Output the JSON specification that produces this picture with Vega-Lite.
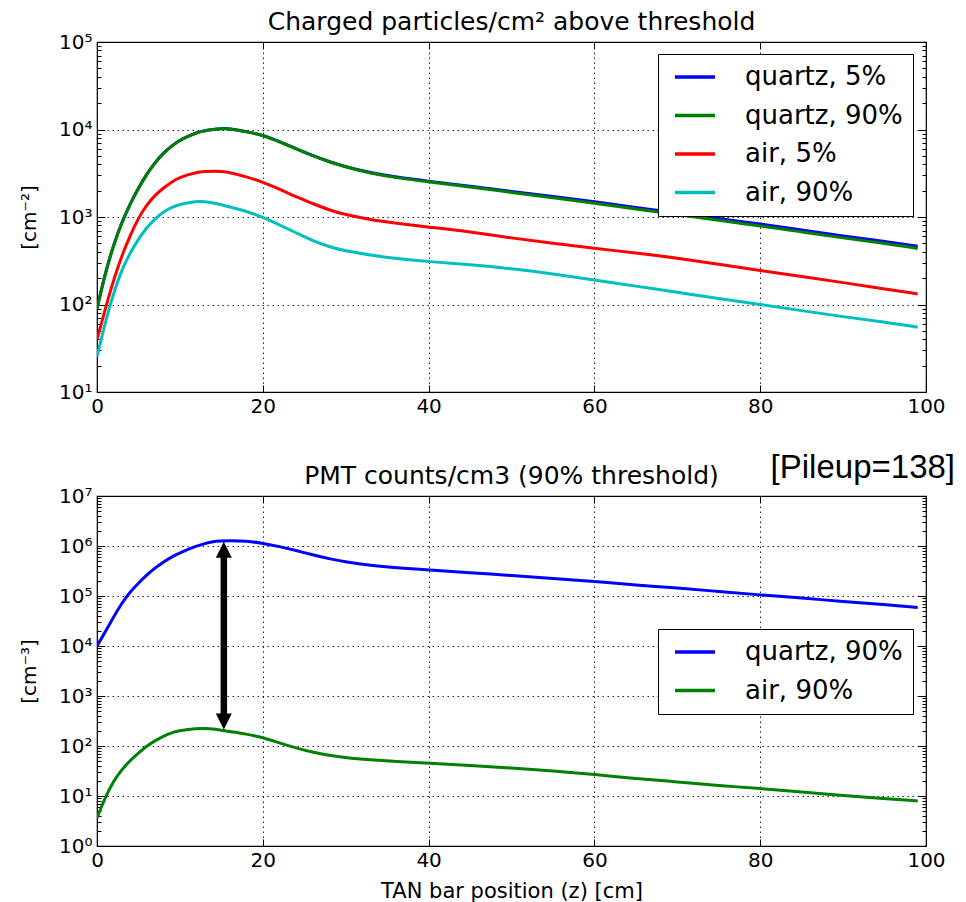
{
  "$schema": "https://vega.github.io/schema/vega-lite/v6.json",
  "autosize": {"type": "none"},
  "padding": {"left": 97, "top": 42, "right": 869, "bottom": 860},
  "background": "white",
  "config": {
    "font": "DejaVu Sans",
    "view": {"stroke": "#000", "strokeWidth": 1.2},
    "axis": {"labelFont": "DejaVu Sans", "titleFont": "DejaVu Sans", "labelColor": "#000", "titleColor": "#000", "tickColor": "#000", "titleFontWeight": "normal"},
    "title": {"font": "DejaVu Sans", "fontWeight": "normal", "fontSize": 25, "color": "#000", "offset": 9},
    "legend": {"labelFont": "DejaVu Sans", "labelColor": "#000"}
  },
  "datasets": {
    "top": [
      {"z":0,"value":90,"series":"quartz, 5%"},{"z":1,"value":230,"series":"quartz, 5%"},{"z":2,"value":481,"series":"quartz, 5%"},{"z":3,"value":875,"series":"quartz, 5%"},{"z":4,"value":1420,"series":"quartz, 5%"},{"z":5,"value":2150,"series":"quartz, 5%"},{"z":6,"value":3100,"series":"quartz, 5%"},{"z":7,"value":4180,"series":"quartz, 5%"},{"z":8,"value":5390,"series":"quartz, 5%"},{"z":9,"value":6480,"series":"quartz, 5%"},{"z":10,"value":7610,"series":"quartz, 5%"},{"z":12,"value":9260,"series":"quartz, 5%"},{"z":13,"value":9700,"series":"quartz, 5%"},{"z":14,"value":10040,"series":"quartz, 5%"},{"z":15,"value":10270,"series":"quartz, 5%"},{"z":16,"value":10270,"series":"quartz, 5%"},{"z":18,"value":9480,"series":"quartz, 5%"},{"z":20,"value":8650,"series":"quartz, 5%"},{"z":22,"value":7280,"series":"quartz, 5%"},{"z":24,"value":6060,"series":"quartz, 5%"},{"z":26,"value":5050,"series":"quartz, 5%"},{"z":28,"value":4300,"series":"quartz, 5%"},{"z":30,"value":3750,"series":"quartz, 5%"},{"z":33,"value":3200,"series":"quartz, 5%"},{"z":36,"value":2860,"series":"quartz, 5%"},{"z":40,"value":2560,"series":"quartz, 5%"},{"z":45,"value":2260,"series":"quartz, 5%"},{"z":50,"value":1960,"series":"quartz, 5%"},{"z":55,"value":1710,"series":"quartz, 5%"},{"z":60,"value":1500,"series":"quartz, 5%"},{"z":65,"value":1280,"series":"quartz, 5%"},{"z":70,"value":1120,"series":"quartz, 5%"},{"z":75,"value":955,"series":"quartz, 5%"},{"z":80,"value":835,"series":"quartz, 5%"},{"z":85,"value":710,"series":"quartz, 5%"},{"z":90,"value":605,"series":"quartz, 5%"},{"z":95,"value":528,"series":"quartz, 5%"},{"z":99,"value":462,"series":"quartz, 5%"},
      {"z":0,"value":89,"series":"quartz, 90%"},{"z":1,"value":229,"series":"quartz, 90%"},{"z":2,"value":479,"series":"quartz, 90%"},{"z":3,"value":871,"series":"quartz, 90%"},{"z":4,"value":1413,"series":"quartz, 90%"},{"z":5,"value":2138,"series":"quartz, 90%"},{"z":6,"value":3090,"series":"quartz, 90%"},{"z":7,"value":4169,"series":"quartz, 90%"},{"z":8,"value":5370,"series":"quartz, 90%"},{"z":9,"value":6457,"series":"quartz, 90%"},{"z":10,"value":7586,"series":"quartz, 90%"},{"z":12,"value":9226,"series":"quartz, 90%"},{"z":13,"value":9660,"series":"quartz, 90%"},{"z":14,"value":10000,"series":"quartz, 90%"},{"z":15,"value":10230,"series":"quartz, 90%"},{"z":16,"value":10230,"series":"quartz, 90%"},{"z":18,"value":9441,"series":"quartz, 90%"},{"z":20,"value":8610,"series":"quartz, 90%"},{"z":22,"value":7244,"series":"quartz, 90%"},{"z":24,"value":6026,"series":"quartz, 90%"},{"z":26,"value":5012,"series":"quartz, 90%"},{"z":28,"value":4266,"series":"quartz, 90%"},{"z":30,"value":3715,"series":"quartz, 90%"},{"z":33,"value":3162,"series":"quartz, 90%"},{"z":36,"value":2818,"series":"quartz, 90%"},{"z":40,"value":2512,"series":"quartz, 90%"},{"z":45,"value":2213,"series":"quartz, 90%"},{"z":50,"value":1905,"series":"quartz, 90%"},{"z":55,"value":1660,"series":"quartz, 90%"},{"z":60,"value":1445,"series":"quartz, 90%"},{"z":65,"value":1230,"series":"quartz, 90%"},{"z":70,"value":1072,"series":"quartz, 90%"},{"z":75,"value":912,"series":"quartz, 90%"},{"z":80,"value":794,"series":"quartz, 90%"},{"z":85,"value":676,"series":"quartz, 90%"},{"z":90,"value":575,"series":"quartz, 90%"},{"z":95,"value":501,"series":"quartz, 90%"},{"z":99,"value":437,"series":"quartz, 90%"},
      {"z":0,"value":39.8,"series":"air, 5%"},{"z":1,"value":89.1,"series":"air, 5%"},{"z":2,"value":191,"series":"air, 5%"},{"z":3,"value":363,"series":"air, 5%"},{"z":4,"value":617,"series":"air, 5%"},{"z":5,"value":977,"series":"air, 5%"},{"z":6,"value":1380,"series":"air, 5%"},{"z":7,"value":1778,"series":"air, 5%"},{"z":8,"value":2138,"series":"air, 5%"},{"z":9,"value":2512,"series":"air, 5%"},{"z":10,"value":2851,"series":"air, 5%"},{"z":12,"value":3236,"series":"air, 5%"},{"z":13,"value":3311,"series":"air, 5%"},{"z":14,"value":3350,"series":"air, 5%"},{"z":15,"value":3311,"series":"air, 5%"},{"z":16,"value":3236,"series":"air, 5%"},{"z":18,"value":2884,"series":"air, 5%"},{"z":20,"value":2512,"series":"air, 5%"},{"z":22,"value":2089,"series":"air, 5%"},{"z":24,"value":1698,"series":"air, 5%"},{"z":26,"value":1429,"series":"air, 5%"},{"z":28,"value":1202,"series":"air, 5%"},{"z":30,"value":1059,"series":"air, 5%"},{"z":33,"value":933,"series":"air, 5%"},{"z":36,"value":851,"series":"air, 5%"},{"z":40,"value":767,"series":"air, 5%"},{"z":45,"value":676,"series":"air, 5%"},{"z":50,"value":575,"series":"air, 5%"},{"z":55,"value":501,"series":"air, 5%"},{"z":60,"value":437,"series":"air, 5%"},{"z":65,"value":389,"series":"air, 5%"},{"z":70,"value":339,"series":"air, 5%"},{"z":75,"value":288,"series":"air, 5%"},{"z":80,"value":245,"series":"air, 5%"},{"z":85,"value":209,"series":"air, 5%"},{"z":90,"value":178,"series":"air, 5%"},{"z":95,"value":151,"series":"air, 5%"},{"z":99,"value":132,"series":"air, 5%"},
      {"z":0,"value":25.1,"series":"air, 90%"},{"z":1,"value":63.1,"series":"air, 90%"},{"z":2,"value":135,"series":"air, 90%"},{"z":3,"value":251,"series":"air, 90%"},{"z":4,"value":389,"series":"air, 90%"},{"z":5,"value":562,"series":"air, 90%"},{"z":6,"value":759,"series":"air, 90%"},{"z":7,"value":955,"series":"air, 90%"},{"z":8,"value":1148,"series":"air, 90%"},{"z":9,"value":1288,"series":"air, 90%"},{"z":10,"value":1396,"series":"air, 90%"},{"z":12,"value":1514,"series":"air, 90%"},{"z":13,"value":1496,"series":"air, 90%"},{"z":14,"value":1445,"series":"air, 90%"},{"z":15,"value":1380,"series":"air, 90%"},{"z":16,"value":1303,"series":"air, 90%"},{"z":18,"value":1161,"series":"air, 90%"},{"z":20,"value":1000,"series":"air, 90%"},{"z":22,"value":813,"series":"air, 90%"},{"z":24,"value":661,"series":"air, 90%"},{"z":26,"value":537,"series":"air, 90%"},{"z":28,"value":457,"series":"air, 90%"},{"z":30,"value":407,"series":"air, 90%"},{"z":33,"value":367,"series":"air, 90%"},{"z":36,"value":335,"series":"air, 90%"},{"z":40,"value":309,"series":"air, 90%"},{"z":45,"value":285,"series":"air, 90%"},{"z":50,"value":257,"series":"air, 90%"},{"z":55,"value":224,"series":"air, 90%"},{"z":60,"value":191,"series":"air, 90%"},{"z":65,"value":162,"series":"air, 90%"},{"z":70,"value":138,"series":"air, 90%"},{"z":75,"value":117,"series":"air, 90%"},{"z":80,"value":100,"series":"air, 90%"},{"z":85,"value":85.1,"series":"air, 90%"},{"z":90,"value":72.4,"series":"air, 90%"},{"z":95,"value":63.1,"series":"air, 90%"},{"z":99,"value":55,"series":"air, 90%"}
    ],
    "bottom": [
      {"z":0,"value":10000,"series":"quartz, 90%"},{"z":1,"value":19280,"series":"quartz, 90%"},{"z":2,"value":38020,"series":"quartz, 90%"},{"z":3,"value":72400,"series":"quartz, 90%"},{"z":4,"value":121600,"series":"quartz, 90%"},{"z":5,"value":179900,"series":"quartz, 90%"},{"z":6,"value":263000,"series":"quartz, 90%"},{"z":7,"value":363100,"series":"quartz, 90%"},{"z":8,"value":478600,"series":"quartz, 90%"},{"z":9,"value":602600,"series":"quartz, 90%"},{"z":10,"value":732800,"series":"quartz, 90%"},{"z":12,"value":1000000,"series":"quartz, 90%"},{"z":13,"value":1122000,"series":"quartz, 90%"},{"z":14,"value":1230000,"series":"quartz, 90%"},{"z":15,"value":1259000,"series":"quartz, 90%"},{"z":16,"value":1288000,"series":"quartz, 90%"},{"z":18,"value":1259000,"series":"quartz, 90%"},{"z":20,"value":1135000,"series":"quartz, 90%"},{"z":22,"value":977000,"series":"quartz, 90%"},{"z":24,"value":813000,"series":"quartz, 90%"},{"z":26,"value":668000,"series":"quartz, 90%"},{"z":28,"value":556000,"series":"quartz, 90%"},{"z":30,"value":479000,"series":"quartz, 90%"},{"z":33,"value":407000,"series":"quartz, 90%"},{"z":36,"value":367000,"series":"quartz, 90%"},{"z":40,"value":335000,"series":"quartz, 90%"},{"z":45,"value":292000,"series":"quartz, 90%"},{"z":50,"value":257000,"series":"quartz, 90%"},{"z":55,"value":224000,"series":"quartz, 90%"},{"z":60,"value":195000,"series":"quartz, 90%"},{"z":65,"value":166000,"series":"quartz, 90%"},{"z":70,"value":145000,"series":"quartz, 90%"},{"z":75,"value":123000,"series":"quartz, 90%"},{"z":80,"value":105000,"series":"quartz, 90%"},{"z":85,"value":91200,"series":"quartz, 90%"},{"z":90,"value":77600,"series":"quartz, 90%"},{"z":95,"value":67600,"series":"quartz, 90%"},{"z":99,"value":58900,"series":"quartz, 90%"},
      {"z":0,"value":3.63,"series":"air, 90%"},{"z":1,"value":9.55,"series":"air, 90%"},{"z":2,"value":20,"series":"air, 90%"},{"z":3,"value":33.9,"series":"air, 90%"},{"z":4,"value":51.3,"series":"air, 90%"},{"z":5,"value":72.4,"series":"air, 90%"},{"z":6,"value":100,"series":"air, 90%"},{"z":7,"value":127,"series":"air, 90%"},{"z":8,"value":157,"series":"air, 90%"},{"z":9,"value":186,"series":"air, 90%"},{"z":10,"value":204,"series":"air, 90%"},{"z":12,"value":224,"series":"air, 90%"},{"z":13,"value":224,"series":"air, 90%"},{"z":14,"value":219,"series":"air, 90%"},{"z":15,"value":208,"series":"air, 90%"},{"z":16,"value":195,"series":"air, 90%"},{"z":18,"value":174,"series":"air, 90%"},{"z":20,"value":148,"series":"air, 90%"},{"z":22,"value":115,"series":"air, 90%"},{"z":24,"value":91.2,"series":"air, 90%"},{"z":26,"value":75,"series":"air, 90%"},{"z":28,"value":64.6,"series":"air, 90%"},{"z":30,"value":58.2,"series":"air, 90%"},{"z":33,"value":53.1,"series":"air, 90%"},{"z":36,"value":49,"series":"air, 90%"},{"z":40,"value":45.2,"series":"air, 90%"},{"z":45,"value":40.7,"series":"air, 90%"},{"z":50,"value":36.3,"series":"air, 90%"},{"z":55,"value":31.6,"series":"air, 90%"},{"z":60,"value":26.9,"series":"air, 90%"},{"z":65,"value":22.4,"series":"air, 90%"},{"z":70,"value":19.1,"series":"air, 90%"},{"z":75,"value":16.2,"series":"air, 90%"},{"z":80,"value":14.1,"series":"air, 90%"},{"z":85,"value":12,"series":"air, 90%"},{"z":90,"value":10.2,"series":"air, 90%"},{"z":95,"value":8.91,"series":"air, 90%"},{"z":99,"value":7.94,"series":"air, 90%"}
    ],
    "arrow": [{"z": 15.3, "tipTop": 1220000, "tipBottom": 214, "shaftTop": 650000, "shaftBottom": 400}]
  },
  "vconcat": [
    {
      "width": 829,
      "height": 350,
      "title": {"text": "Charged particles/cm² above threshold", "dy": 12},
      "layer": [
        {
          "data": {"name": "top"},
          "mark": {"type": "line", "strokeWidth": 3, "interpolate": "basis", "clip": true},
          "encoding": {
            "x": {"field": "z", "type": "quantitative", "scale": {"domain": [0, 100], "nice": false},
              "axis": {"orient": "bottom", "values": [0, 20, 40, 60, 80, 100], "title": null, "grid": true, "gridColor": "#000", "gridDash": [1.5, 3.5], "gridWidth": 1, "gridOpacity": 0.85, "domain": false, "tickSize": -7, "labelFontSize": 20, "labelPadding": 11, "labelFlush": false, "labelOverlap": false}},
            "y": {"field": "value", "type": "quantitative", "scale": {"type": "log", "domain": [10, 100000], "nice": false},
              "axis": {"orient": "left", "values": [10,20,30,40,50,60,70,80,90,100,200,300,400,500,600,700,800,900,1000,2000,3000,4000,5000,6000,7000,8000,9000,10000,20000,30000,40000,50000,60000,70000,80000,90000,100000],
                "labelExpr": "abs(log(datum.value)/LN10 - round(log(datum.value)/LN10)) < 0.001 ? '10' + ['⁰','¹','²','³','⁴','⁵','⁶','⁷'][round(log(datum.value)/LN10)] : ''",
                "labelFontSize": 20, "labelPadding": 13, "labelFlush": false, "labelOverlap": false, "labelBaseline": "middle",
                "grid": true, "gridColor": "#000", "gridDash": [1.5, 3.5], "gridWidth": 1,
                "gridOpacity": {"condition": {"test": "abs(log(datum.value)/LN10 - round(log(datum.value)/LN10)) < 0.001", "value": 0.85}, "value": 0},
                "tickSize": {"condition": {"test": "abs(log(datum.value)/LN10 - round(log(datum.value)/LN10)) < 0.001", "value": -8}, "value": -4},
                "domain": false,
                "title": "[cm⁻²]", "titleFontSize": 20, "titleX": -68, "titleY": 175, "titleBaseline": "middle", "titleAlign": "center", "titleAngle": 270}},
            "color": {"field": "series", "type": "nominal",
              "scale": {"domain": ["quartz, 5%", "quartz, 90%", "air, 5%", "air, 90%"], "range": ["#0000ff", "#008000", "#ff0000", "#00bfbf"]},
              "legend": {"orient": "none", "legendX": 561, "legendY": 12, "title": null, "symbolType": "M-4,0H4", "symbolSize": 100, "symbolStrokeWidth": 3.5, "labelFontSize": 26, "padding": 10, "strokeColor": "#000", "fillColor": "#fff", "cornerRadius": 0, "rowPadding": 12.5, "symbolOffset": 14, "labelOffset": 37, "labelLimit": 400}}
          }
        },
        {
          "data": {"name": "top"},
          "mark": {"type": "point", "opacity": 0},
          "encoding": {
            "x": {"field": "z", "type": "quantitative", "axis": {"orient": "top", "values": [0, 20, 40, 60, 80, 100], "labels": false, "title": null, "grid": false, "domain": false, "tickSize": -7}},
            "y": {"field": "value", "type": "quantitative",
              "axis": {"orient": "right", "values": [10,20,30,40,50,60,70,80,90,100,200,300,400,500,600,700,800,900,1000,2000,3000,4000,5000,6000,7000,8000,9000,10000,20000,30000,40000,50000,60000,70000,80000,90000,100000],
                "labels": false, "title": null, "grid": false, "domain": false,
                "tickSize": {"condition": {"test": "abs(log(datum.value)/LN10 - round(log(datum.value)/LN10)) < 0.001", "value": -8}, "value": -4}}}
          }
        }
      ],
      "resolve": {"axis": {"x": "independent", "y": "independent"}}
    },
    {
      "width": 829,
      "height": 350,
      "title": {"text": "PMT counts/cm3 (90% threshold)", "dy": 46},
      "layer": [
        {
          "data": {"name": "bottom"},
          "mark": {"type": "line", "strokeWidth": 3, "interpolate": "basis", "clip": true},
          "encoding": {
            "x": {"field": "z", "type": "quantitative", "scale": {"domain": [0, 100], "nice": false},
              "axis": {"orient": "bottom", "values": [0, 20, 40, 60, 80, 100], "grid": true, "gridColor": "#000", "gridDash": [1.5, 3.5], "gridWidth": 1, "gridOpacity": 0.85, "domain": false, "tickSize": -7, "labelFontSize": 20, "labelPadding": 11, "labelFlush": false, "labelOverlap": false,
                "title": "TAN bar position (z) [cm]", "titleFontSize": 21, "titleY": 51, "titleBaseline": "alphabetic"}},
            "y": {"field": "value", "type": "quantitative", "scale": {"type": "log", "domain": [1, 10000000], "nice": false},
              "axis": {"orient": "left", "values": [1,2,3,4,5,6,7,8,9,10,20,30,40,50,60,70,80,90,100,200,300,400,500,600,700,800,900,1000,2000,3000,4000,5000,6000,7000,8000,9000,10000,20000,30000,40000,50000,60000,70000,80000,90000,100000,200000,300000,400000,500000,600000,700000,800000,900000,1000000,2000000,3000000,4000000,5000000,6000000,7000000,8000000,9000000,10000000],
                "labelExpr": "abs(log(datum.value)/LN10 - round(log(datum.value)/LN10)) < 0.001 ? '10' + ['⁰','¹','²','³','⁴','⁵','⁶','⁷'][round(log(datum.value)/LN10)] : ''",
                "labelFontSize": 20, "labelPadding": 13, "labelFlush": false, "labelOverlap": false, "labelBaseline": "middle",
                "grid": true, "gridColor": "#000", "gridDash": [1.5, 3.5], "gridWidth": 1,
                "gridOpacity": {"condition": {"test": "abs(log(datum.value)/LN10 - round(log(datum.value)/LN10)) < 0.001", "value": 0.85}, "value": 0},
                "tickSize": {"condition": {"test": "abs(log(datum.value)/LN10 - round(log(datum.value)/LN10)) < 0.001", "value": -8}, "value": -4},
                "domain": false,
                "title": "[cm⁻³]", "titleFontSize": 20, "titleX": -68, "titleY": 175, "titleBaseline": "middle", "titleAlign": "center", "titleAngle": 270}},
            "color": {"field": "series", "type": "nominal",
              "scale": {"domain": ["quartz, 90%", "air, 90%"], "range": ["#0000ff", "#008000"]},
              "legend": {"orient": "none", "legendX": 561, "legendY": 133, "title": null, "symbolType": "M-4,0H4", "symbolSize": 100, "symbolStrokeWidth": 3.5, "labelFontSize": 26, "padding": 10, "strokeColor": "#000", "fillColor": "#fff", "cornerRadius": 0, "rowPadding": 12.5, "symbolOffset": 14, "labelOffset": 37, "labelLimit": 400}}
          }
        },
        {
          "data": {"name": "bottom"},
          "mark": {"type": "point", "opacity": 0},
          "encoding": {
            "x": {"field": "z", "type": "quantitative", "axis": {"orient": "top", "values": [0, 20, 40, 60, 80, 100], "labels": false, "title": null, "grid": false, "domain": false, "tickSize": -7}},
            "y": {"field": "value", "type": "quantitative",
              "axis": {"orient": "right", "values": [1,2,3,4,5,6,7,8,9,10,20,30,40,50,60,70,80,90,100,200,300,400,500,600,700,800,900,1000,2000,3000,4000,5000,6000,7000,8000,9000,10000,20000,30000,40000,50000,60000,70000,80000,90000,100000,200000,300000,400000,500000,600000,700000,800000,900000,1000000,2000000,3000000,4000000,5000000,6000000,7000000,8000000,9000000,10000000],
                "labels": false, "title": null, "grid": false, "domain": false,
                "tickSize": {"condition": {"test": "abs(log(datum.value)/LN10 - round(log(datum.value)/LN10)) < 0.001", "value": -8}, "value": -4}}}
          }
        },
        {
          "data": {"name": "arrow"},
          "mark": {"type": "rule", "strokeWidth": 6.5, "color": "#000"},
          "encoding": {
            "x": {"field": "z", "type": "quantitative", "axis": null},
            "y": {"field": "shaftTop", "type": "quantitative", "axis": null},
            "y2": {"field": "shaftBottom"}
          }
        },
        {
          "data": {"name": "arrow"},
          "mark": {"type": "point", "shape": "M0,0L-1,2L1,2Z", "size": 256, "filled": true, "color": "#000", "opacity": 1, "strokeWidth": 0},
          "encoding": {
            "x": {"field": "z", "type": "quantitative", "axis": null},
            "y": {"field": "tipTop", "type": "quantitative", "axis": null}
          }
        },
        {
          "data": {"name": "arrow"},
          "mark": {"type": "point", "shape": "M0,0L-1,-2L1,-2Z", "size": 256, "filled": true, "color": "#000", "opacity": 1, "strokeWidth": 0},
          "encoding": {
            "x": {"field": "z", "type": "quantitative", "axis": null},
            "y": {"field": "tipBottom", "type": "quantitative", "axis": null}
          }
        },
        {
          "data": {"name": "arrow"},
          "mark": {"type": "text", "font": "Liberation Sans", "fontSize": 33, "align": "right", "baseline": "alphabetic", "color": "#000"},
          "encoding": {
            "x": {"datum": 103.5, "type": "quantitative", "axis": null},
            "y": {"datum": 22600000, "type": "quantitative", "axis": null},
            "text": {"value": "[Pileup=138]"}
          }
        }
      ],
      "resolve": {"axis": {"x": "independent", "y": "independent"}}
    }
  ],
  "spacing": 104,
  "bounds": "flush",
  "resolve": {"scale": {"color": "independent", "y": "independent", "x": "independent"}, "legend": {"color": "independent"}}
}
